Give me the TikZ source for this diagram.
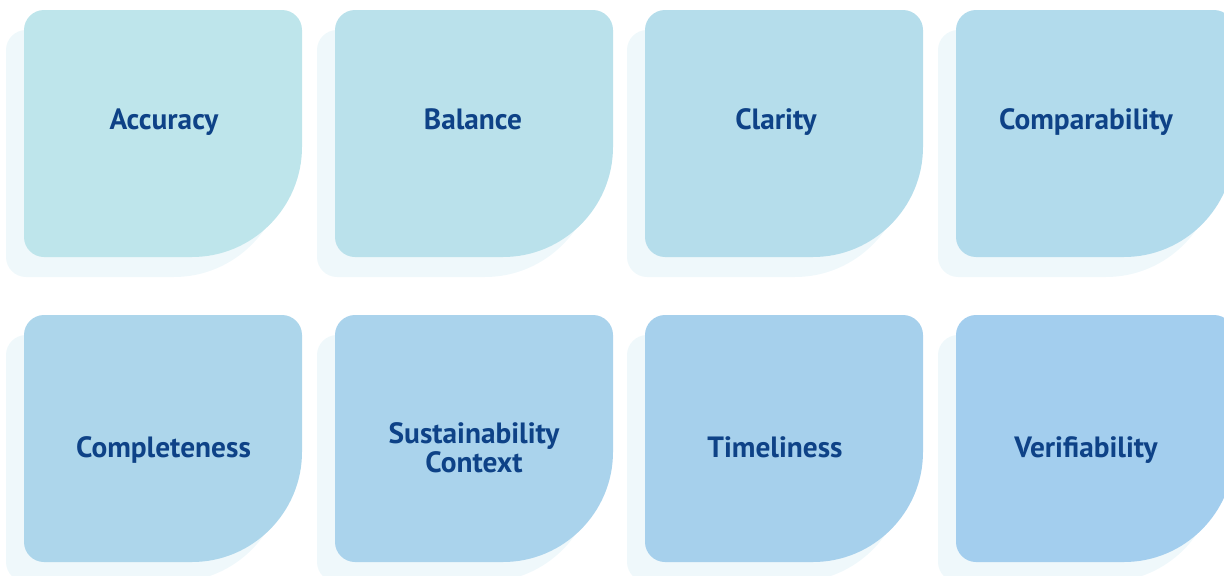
\documentclass[tikz,border=0pt]{standalone}
\usepackage{fontspec}
\setmainfont{PT Sans}
\definecolor{shad}{HTML}{EFF8FB}
\definecolor{txt}{HTML}{0E4287}
\definecolor{cA}{HTML}{BEE5EB}
\definecolor{cB}{HTML}{BAE1EB}
\definecolor{cC}{HTML}{B5DDEB}
\definecolor{cD}{HTML}{B2DBEC}
\definecolor{cE}{HTML}{ADD6EB}
\definecolor{cF}{HTML}{AAD3EC}
\definecolor{cG}{HTML}{A6D0EC}
\definecolor{cH}{HTML}{A3CEEE}
\newcommand\cardfill[3]{%
 \fill[#3] (#1+20,#2) -- (#1+258,#2) .. controls (#1+269,#2) and (#1+278,#2+9) .. (#1+278,#2+20)
 -- (#1+278,#2+137) .. controls (#1+278,#2+197.5) and (#1+228.5,#2+247) .. (#1+168,#2+247)
 -- (#1+20,#2+247) .. controls (#1+9,#2+247) and (#1,#2+238) .. (#1,#2+227)
 -- (#1,#2+20) .. controls (#1,#2+9) and (#1+9,#2) .. (#1+20,#2) -- cycle;}
\newcommand\cardpair[3]{%
 \cardfill{#1-18}{#2+20}{shad}
 \cardfill{#1}{#2}{#3}}
\tikzset{
 lbl/.style={font=\bfseries\fontsize{22}{22.2}\selectfont, text=txt, inner sep=0pt, anchor=base, align=center}
}
\begin{document}
\begin{tikzpicture}[x=0.75pt,y=-0.75pt]
\useasboundingbox (0,0) rectangle (1224,575);
\clip (0,0) rectangle (1224,575);
\cardpair{24}{10}{cA}
\cardpair{335}{10}{cB}
\cardpair{645}{10}{cC}
\cardpair{956}{10}{cD}
\cardpair{24}{315}{cE}
\cardpair{335}{315}{cF}
\cardpair{645}{315}{cG}
\cardpair{956}{315}{cH}
\node[lbl] (acc) at (164,129.3) {Accuracy};
\node[lbl] (bal) at (473,129.3) {Balance};
\node[lbl] (cla) at (776,129.3) {Clarity};
\node[lbl] (com) at (1086,129.3) {Comparability};
\node[lbl] (cpl) at (163.5,457) {Completeness};
\node[lbl] (sus) at (474,472.7) {Sustainability\\Context};
\node[lbl] (tim) at (775,457) {Timeliness};
\node[lbl] (ver) at (1086,457) {Verifiability};
\end{tikzpicture}
\end{document}
